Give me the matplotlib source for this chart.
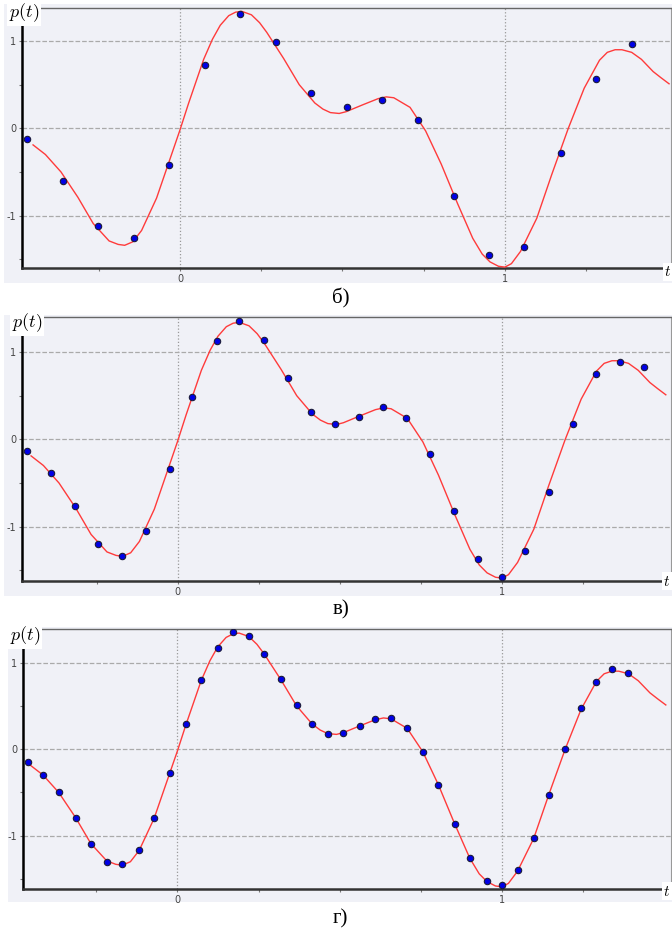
import matplotlib.pyplot as plt
from matplotlib.patches import Rectangle

plt.rcParams['mathtext.fontset'] = 'cm'
plt.rcParams['axes.unicode_minus'] = False

# continuous signal p(t) (same on all three panels)
curve_t = [-0.452, -0.414, -0.366, -0.314, -0.267, -0.218, -0.19, -0.17, -0.145, -0.118,
           -0.072, -0.024, 0.0, 0.026, 0.073, 0.10, 0.124, 0.15, 0.171, 0.19,
           0.22, 0.245, 0.267, 0.319, 0.367, 0.415, 0.44, 0.463, 0.49, 0.511,
           0.563, 0.61, 0.635, 0.658, 0.708, 0.756, 0.804, 0.854, 0.901, 0.93,
           0.954, 0.98, 1.0, 1.02, 1.048, 1.098, 1.144, 1.195, 1.244, 1.291,
           1.315, 1.339, 1.36, 1.39, 1.42, 1.456, 1.48, 1.505]
curve_p = [-0.19, -0.30, -0.50, -0.79, -1.09, -1.29, -1.33, -1.34, -1.30, -1.17,
           -0.80, -0.28, -0.02, 0.28, 0.79, 1.02, 1.18, 1.29, 1.33, 1.34,
           1.30, 1.21, 1.10, 0.80, 0.50, 0.29, 0.22, 0.18, 0.17, 0.19,
           0.27, 0.34, 0.36, 0.35, 0.24, -0.03, -0.41, -0.86, -1.26, -1.44,
           -1.53, -1.58, -1.59, -1.55, -1.41, -1.03, -0.53, 0.00, 0.46, 0.78,
           0.87, 0.90, 0.90, 0.87, 0.79, 0.65, 0.58, 0.51]

# samples, panel б
t_b = [-0.47, -0.361, -0.252, -0.142, -0.033, 0.078, 0.186, 0.296, 0.404, 0.515,
       0.622, 0.733, 0.842, 0.952, 1.06, 1.171, 1.279, 1.39]
p_b = [-0.12, -0.60, -1.12, -1.26, -0.42, 0.72, 1.31, 0.99, 0.40, 0.24,
       0.32, 0.10, -0.78, -1.45, -1.36, -0.28, 0.57, 0.97]

# samples, panel в
t_v = [-0.464, -0.391, -0.317, -0.247, -0.172, -0.099, -0.025, 0.045, 0.12, 0.189,
       0.267, 0.341, 0.412, 0.485, 0.56, 0.633, 0.705, 0.778, 0.853, 0.926,
       1.0, 1.071, 1.145, 1.218, 1.291, 1.363, 1.437]
p_v = [-0.137, -0.385, -0.76, -1.20, -1.34, -1.05, -0.34, 0.49, 1.13, 1.35,
       1.14, 0.70, 0.315, 0.18, 0.25, 0.37, 0.245, -0.17, -0.82, -1.37,
       -1.58, -1.28, -0.60, 0.17, 0.75, 0.88, 0.83]

# samples, panel г
t_g = [-0.461, -0.414, -0.366, -0.314, -0.267, -0.218, -0.17, -0.118, -0.072, -0.024,
       0.026, 0.073, 0.124, 0.171, 0.22, 0.267, 0.319, 0.367, 0.415, 0.463,
       0.511, 0.563, 0.61, 0.658, 0.708, 0.756, 0.804, 0.854, 0.901, 0.954,
       1.0, 1.048, 1.098, 1.144, 1.195, 1.244, 1.291, 1.339, 1.39]
p_g = [-0.143, -0.30, -0.50, -0.79, -1.10, -1.30, -1.33, -1.16, -0.79, -0.27,
       0.29, 0.80, 1.17, 1.35, 1.31, 1.10, 0.81, 0.51, 0.29, 0.18,
       0.19, 0.27, 0.35, 0.36, 0.24, -0.03, -0.41, -0.86, -1.26, -1.52,
       -1.57, -1.40, -1.03, -0.53, 0.00, 0.47, 0.78, 0.92, 0.88]

captions = ["б)", "в)", "г)"]

W, H = 672, 932
fig = plt.figure(figsize=(W / 100, H / 100), dpi=100)


def fx(x):
    return x / W


def fy(y):
    return 1 - y / H


# per panel: samples, background box, axes box (pixels), xlim, ylim, label spots
panels = [
    (t_b, p_b, (4, 4, 672, 283), (22, 8, 671, 268), (-0.486, 1.511), (-1.60, 1.378),
     (24, 13), (668, 272), (341, 298)),
    (t_v, p_v, (4, 315, 672, 596), (22, 317, 671, 581), (-0.480, 1.521), (-1.623, 1.401),
     (27, 323), (667, 581), (341, 610)),
    (t_g, p_g, (8, 627, 672, 902), (23, 629, 671, 889), (-0.476, 1.521), (-1.615, 1.387),
     (25, 636), (667, 891), (340, 919)),
]

bg = "#f0f1f7"

for i, (ts, ps, box, ab, xl, yl, plab, tlab, cap) in enumerate(panels):
    fig.patches.append(Rectangle((fx(box[0]), fy(box[3])), fx(box[2] - box[0]), (box[3] - box[1]) / H,
                                 transform=fig.transFigure, facecolor=bg, edgecolor="none", zorder=-5))
    ax = fig.add_axes([fx(ab[0]), fy(ab[3]), fx(ab[2] - ab[0]), (ab[3] - ab[1]) / H])
    ax.set_facecolor(bg)
    ax.set_xlim(xl)
    ax.set_ylim(yl)

    ax.set_xticks([0, 1])
    ax.set_xticks([-0.25, 0.25, 0.5, 0.75, 1.25], minor=True)
    ax.set_yticks([-1, 0, 1])
    ax.set_yticks([-1.5, -0.5, 0.5], minor=True)
    ax.tick_params(which="both", length=2, width=0.8, color="#777777",
                   labelsize=7, labelcolor="#444444", pad=2)
    ax.grid(axis="x", which="major", linestyle=":", color="#999999", linewidth=0.9)
    ax.grid(axis="y", which="major", linestyle="--", color="#aaaaaa", linewidth=0.9)
    ax.set_axisbelow(True)

    ax.spines["left"].set_color("black")
    ax.spines["left"].set_linewidth(1.8)
    ax.spines["bottom"].set_color("#333333")
    ax.spines["bottom"].set_linewidth(1.8)
    ax.spines["top"].set_color("#666666")
    ax.spines["top"].set_linewidth(1.0)
    ax.spines["right"].set_color("#999999")
    ax.spines["right"].set_linewidth(0.8)

    ax.plot(curve_t, curve_p, color="#ff3b3b", linewidth=1.0, zorder=3)
    ax.plot(ts, ps, "o", markersize=4.6, markerfacecolor="#0000e6",
            markeredgecolor="#1a1a3a", markeredgewidth=0.8, zorder=4)

    fig.text(fx(plab[0]), fy(plab[1]), r"$p(t)$", fontsize=13, ha="center", va="center",
             bbox=dict(facecolor="white", edgecolor="none", pad=1.2))
    fig.text(fx(tlab[0]), fy(tlab[1]), r"$t$", fontsize=11, ha="center", va="center",
             bbox=dict(facecolor="white", edgecolor="none", pad=0.8))
    fig.text(fx(cap[0]), fy(cap[1]), captions[i], fontsize=15, ha="center", va="center",
             family="Liberation Serif")

plt.savefig("out.png", dpi=100)
